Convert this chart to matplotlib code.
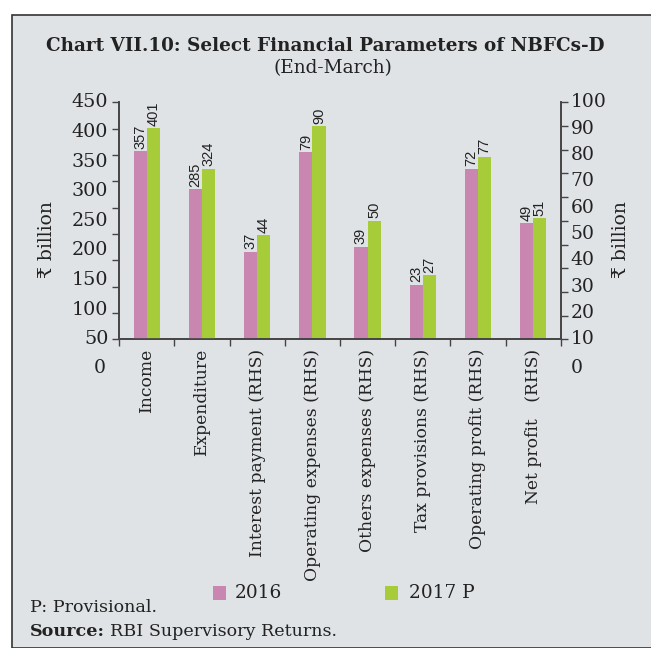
import numpy as np
import matplotlib
matplotlib.use("Agg")
import matplotlib.pyplot as plt
from matplotlib.patches import Rectangle

categories = ["Income", "Expenditure", "Interest payment (RHS)", "Operating expenses (RHS)",
              "Others expenses (RHS)", "Tax provisions (RHS)", "Operating profit (RHS)", "Net profit   (RHS)"]
v2016 = [357, 285, 37, 79, 39, 23, 72, 49]
v2017 = [401, 324, 44, 90, 50, 27, 77, 51]
on_rhs = [False, False, True, True, True, True, True, True]
left_labels = ["50", "100", "150", "200", "250", "300", "350", "400", "450"]
right_labels = ["10", "20", "30", "40", "50", "60", "70", "80", "90", "100"]
series_names = ["2016", "2017 P"]

BG = "#e0e3e6"
PINK = "#c986b1"
GREEN = "#a6cd39"
TXT = "#222222"
SERIF = ["DejaVu Serif"]

W, H = 651, 648
fig = plt.figure(figsize=(W / 100, H / 100), dpi=100)
fig.patch.set_facecolor("white")
fig.patches.append(Rectangle((12 / W, 0), 1 - 12 / W + 0.01, 1 - 15 / H, transform=fig.transFigure,
                             facecolor=BG, edgecolor="#333333", linewidth=1.2, zorder=-10))

x0, x1, y0, y1 = 119.3, 560.7, 102.3, 339.3
ax = fig.add_axes([x0 / W, 1 - y1 / H, (x1 - x0) / W, (y1 - y0) / H])
ax2 = ax.twinx()
for a in (ax, ax2):
    a.set_facecolor("none")
ax.set_zorder(2)
ax2.set_zorder(1)

n = len(categories)
x = np.arange(n)
bw = 0.24
for i in range(n):
    target = ax2 if on_rhs[i] else ax
    for j, (vals, col) in enumerate(((v2016, PINK), (v2017, GREEN))):
        xi = x[i] + (j - 0.5) * bw
        target.bar(xi, vals[i], width=bw, color=col, edgecolor="none")
        target.text(xi, vals[i] + (1.0 if on_rhs[i] else 4.5), str(vals[i]), rotation=90,
                    ha="center", va="bottom", fontsize=10.5, color=TXT,
                    family=["Liberation Sans"])

ax.set_xlim(-0.5, n - 0.5)
ax.set_ylim(0, 450)
ax2.set_ylim(0, 100)

ax.set_xticks(np.arange(-0.5, n, 1.0))
ax.set_xticklabels([])
ax.tick_params(axis="x", length=5, width=1, color="#444444", direction="out")
for i, c in enumerate(categories):
    ax.text(x[i], -0.04, c, transform=ax.get_xaxis_transform(), rotation=90, ha="center", va="top",
            fontsize=12.3, family=SERIF, color=TXT)

ax.set_yticks(np.arange(0, 451, 50))
ax.set_yticklabels([])
ax.tick_params(axis="y", length=5, width=1, color="#444444", direction="out")
ax2.set_yticks(np.arange(0, 101, 10))
ax2.set_yticklabels([])
ax2.tick_params(axis="y", length=5, width=1, color="#444444", direction="out")

for k, lab in enumerate(left_labels):
    ax.text(-0.025, k / (len(left_labels) - 1), lab, transform=ax.transAxes, ha="right", va="center",
            fontsize=13.8, family=SERIF, color=TXT)
for k, lab in enumerate(right_labels):
    ax.text(1.022, k / (len(right_labels) - 1), lab, transform=ax.transAxes, ha="left", va="center",
            fontsize=13.5, family=SERIF, color=TXT)
ax.text(-0.03, -0.12, "0", transform=ax.transAxes, ha="right", va="center",
        fontsize=13.5, family=SERIF, color=TXT)
ax.text(1.022, -0.12, "0", transform=ax.transAxes, ha="left", va="center",
        fontsize=13.5, family=SERIF, color=TXT)

for a in (ax, ax2):
    a.spines["top"].set_visible(False)
    for s in ("left", "right", "bottom"):
        a.spines[s].set_color("#444444")
        a.spines[s].set_linewidth(1.2)

fig.text(47 / W, 1 - 240 / H, "₹ billion", rotation=90, ha="center", va="center",
         fontsize=13.5, family=SERIF, color=TXT)
fig.text(621 / W, 1 - 240 / H, "₹ billion", rotation=90, ha="center", va="center",
         fontsize=13.5, family=SERIF, color=TXT)

fig.text(325 / W, 1 - 46 / H, "Chart VII.10: Select Financial Parameters of NBFCs-D", ha="center",
         va="center", fontsize=13.2, fontweight="bold", family=SERIF, color=TXT)
fig.text(333 / W, 1 - 68 / H, "(End-March)", ha="center", va="center",
         fontsize=13.3, family=SERIF, color=TXT)

# legend
for lx, tx, col, name in ((213, 235, PINK, series_names[0]), (385, 409, GREEN, series_names[1])):
    fig.patches.append(Rectangle((lx / W, 1 - 600 / H), 13 / W, 14 / H, transform=fig.transFigure,
                                 facecolor=col, edgecolor="none"))
    fig.text(tx / W, 1 - 593 / H, name, ha="left", va="center", fontsize=13.3, family=SERIF, color=TXT)

fig.text(30 / W, 1 - 607 / H, "P: Provisional.", ha="left", va="center", fontsize=12.6, family=SERIF,
         color=TXT)
src = fig.text(30 / W, 1 - 632 / H, "Source:", ha="left", va="center", fontsize=12.6, family=SERIF,
               fontweight="bold", color=TXT)
fig.canvas.draw()
bb = src.get_window_extent(fig.canvas.get_renderer())
fig.text((bb.x1 + 5) / W, 1 - 632 / H, "RBI Supervisory Returns.", ha="left", va="center", fontsize=12.6,
         family=SERIF, color=TXT)

fig.savefig("out.png", dpi=100, facecolor=fig.get_facecolor())
